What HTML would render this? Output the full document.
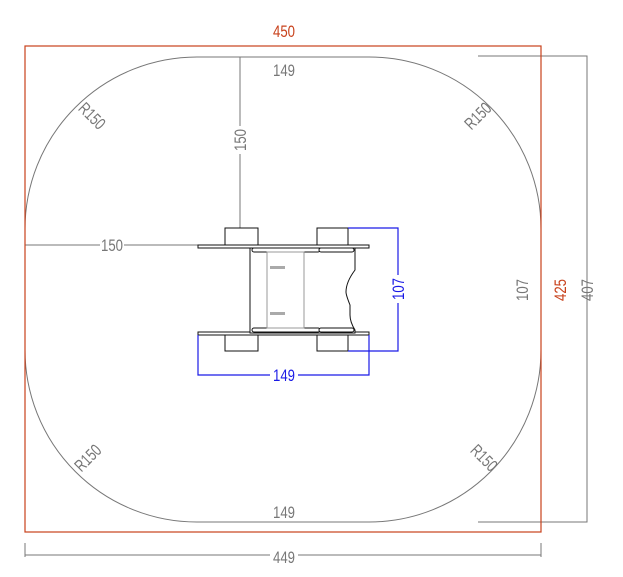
<!DOCTYPE html>
<html><head><style>body{margin:0;background:#fff}svg{display:block}text{font-family:"Liberation Sans Narrow","Liberation Sans",sans-serif;font-size:17px}</style></head><body>
<svg width="623" height="577" viewBox="0 0 623 577">
<g fill="none" stroke="#777" stroke-width="1">
<rect x="25" y="57" width="516" height="465" rx="172" ry="172"/>
<path d="M478 56H587V522H478"/>
<path d="M25 543V557M541 543V557M25 555H270M298 555H541"/>
<path d="M240 57V126M240 154V228"/>
<path d="M25 245H100M124 245H198"/>
</g>
<rect x="25" y="46" width="516" height="486" fill="none" stroke="#c8411b" stroke-width="1.2"/>
<g fill="#fff" stroke="#111" stroke-width="1">
<rect x="225" y="228" width="33" height="18"/>
<rect x="317" y="228" width="31" height="18"/>
<rect x="225" y="334" width="33" height="17"/>
<rect x="317" y="334" width="31" height="17"/>
<rect x="198" y="245" width="171" height="3"/>
<rect x="198" y="332" width="171" height="3"/>
<path d="M250 248V333H355V330Q350 322 350 315V305Q346 295 346 292Q346 282 355 270V248Z"/>
<rect x="252" y="248" width="68" height="4" rx="2"/>
<rect x="319" y="248" width="35" height="4" rx="2"/>
<rect x="252" y="328" width="68" height="4" rx="2"/>
<rect x="319" y="328" width="35" height="4" rx="2"/>
</g>
<rect x="267" y="252" width="37" height="76" fill="none" stroke="#999"/>
<rect x="270" y="266" width="15" height="3" fill="#aaa"/>
<rect x="270" y="312" width="15" height="3" fill="#aaa"/>
<g fill="none" stroke="#1a1ae6" stroke-width="1.2">
<path d="M348 228H398V275M398 303V351H348"/>
<path d="M198 335V375H270M298 375H369V335"/>
</g>
<g fill="#777" text-anchor="middle" lengthAdjust="spacingAndGlyphs">
<text x="284" y="76" textLength="22" lengthAdjust="spacingAndGlyphs">149</text>
<text x="284" y="518" textLength="22" lengthAdjust="spacingAndGlyphs">149</text>
<text x="284" y="563" textLength="22" lengthAdjust="spacingAndGlyphs">449</text>
<text x="112" y="251" textLength="22" lengthAdjust="spacingAndGlyphs">150</text>
<text transform="translate(246,140) rotate(-90)" textLength="22" lengthAdjust="spacingAndGlyphs">150</text>
<text transform="translate(528,290) rotate(-90)" textLength="22" lengthAdjust="spacingAndGlyphs">107</text>
<text transform="translate(593,290) rotate(-90)" textLength="22" lengthAdjust="spacingAndGlyphs">407</text>
<text transform="translate(88,120) rotate(45)" textLength="30" lengthAdjust="spacingAndGlyphs">R150</text>
<text transform="translate(482,120) rotate(-45)" textLength="30" lengthAdjust="spacingAndGlyphs">R150</text>
<text transform="translate(92,462) rotate(-45)" textLength="30" lengthAdjust="spacingAndGlyphs">R150</text>
<text transform="translate(480,462) rotate(45)" textLength="30" lengthAdjust="spacingAndGlyphs">R150</text>
</g>
<g fill="#c8411b" text-anchor="middle">
<text x="284" y="37" textLength="22" lengthAdjust="spacingAndGlyphs">450</text>
<text transform="translate(566,290) rotate(-90)" textLength="22" lengthAdjust="spacingAndGlyphs">425</text>
</g>
<g fill="#1a1ae6" text-anchor="middle">
<text x="284" y="381" textLength="22" lengthAdjust="spacingAndGlyphs">149</text>
<text transform="translate(404,289) rotate(-90)" textLength="22" lengthAdjust="spacingAndGlyphs">107</text>
</g>
</svg>
</body></html>
